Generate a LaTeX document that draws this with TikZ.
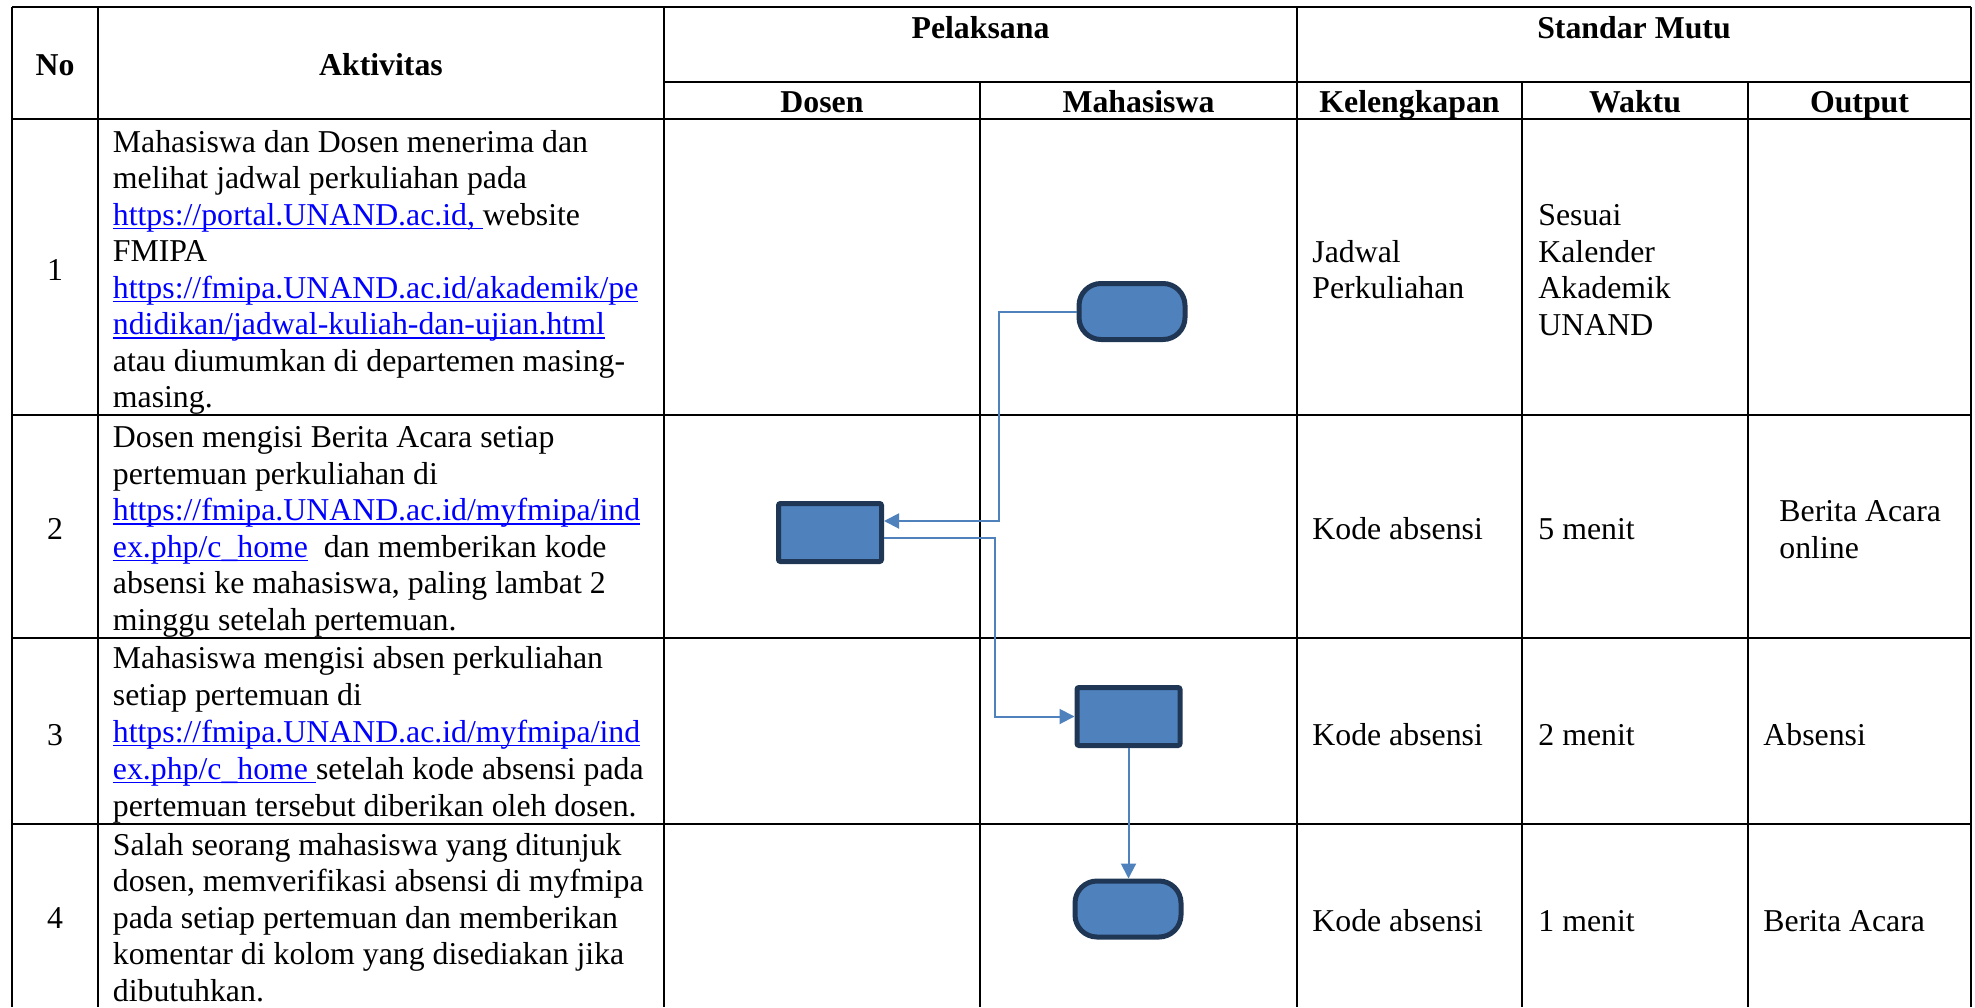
\documentclass[tikz,border=0pt]{standalone}
\usepackage{fontspec}
\setmainfont{Liberation Serif}
\usetikzlibrary{arrows.meta,calc}
\definecolor{boxfill}{HTML}{4F81BD}
\definecolor{boxline}{HTML}{1F3654}
\definecolor{connblue}{HTML}{4F81BD}
\definecolor{linkblue}{HTML}{0000FF}
\newcommand\lnk[1]{{\color{linkblue}\setbox0\hbox{#1}\rlap{\rule[-2.1pt]{\wd0}{0.8pt}}\box0}}
\newcommand\txl[3]{\node[txt] (#1) at (#2) {#3};}
\tikzset{
  txt/.style={anchor=base west, inner sep=0pt, font=\fontsize{15.9}{18.3}\selectfont},
  hdr/.style={anchor=base, inner sep=0pt, font=\fontsize{15.9}{18.3}\selectfont\bfseries},
  num/.style={anchor=base, inner sep=0pt, font=\fontsize{15.9}{18.3}\selectfont},
  tbl/.style={line width=1pt, black},
  term/.style={draw=boxline, fill=boxfill, line width=2.5pt, minimum width=53pt, minimum height=28pt, rounded corners=11pt, inner sep=0pt},
  proc/.style={draw=boxline, fill=boxfill, line width=2.5pt, minimum width=51.5pt, minimum height=29pt, rounded corners=1pt, inner sep=0pt},
  conn/.style={draw=connblue, line width=1pt, -{Triangle[length=7.5pt,width=7.5pt]}}
}
\begin{document}
\begin{tikzpicture}[x=0.5pt,y=-0.5pt]
\useasboundingbox (0,0) rectangle (1975,1007);
% grid
\draw[tbl] (12,7) -- (1971,7);
\draw[tbl] (664,82) -- (1971,82);
\foreach \yy in {119,415,638,824} {\draw[tbl] (12,\yy) -- (1971,\yy);}
\foreach \xx in {12,98,664,1297,1971} {\draw[tbl] (\xx,7) -- (\xx,1007);}
\foreach \xx in {980,1522,1748} {\draw[tbl] (\xx,82) -- (\xx,1007);}
% headers
\node[hdr] (hNo) at (55,75) {No};
\node[hdr] (hAkt) at (381,75) {Aktivitas};
\node[hdr] (hPel) at (980.5,38) {Pelaksana};
\node[hdr] (hStd) at (1634,38) {Standar Mutu};
\node[hdr] (hDos) at (822,112) {Dosen};
\node[hdr] (hMhs) at (1138.5,112) {Mahasiswa};
\node[hdr] (hKel) at (1409.5,112) {Kelengkapan};
\node[hdr] (hWak) at (1635,112) {Waktu};
\node[hdr] (hOut) at (1859.5,112) {Output};
% numbers
\node[num] (n1) at (55,280) {1};
\node[num] (n2) at (55,539.5) {2};
\node[num] (n3) at (55,745.7) {3};
\node[num] (n4) at (55,928) {4};
% row 1
\txl{a1}{112.5,152}{Mahasiswa dan Dosen menerima dan}
\txl{a2}{112.5,188.5}{melihat jadwal perkuliahan pada}
\txl{a3}{112.5,225}{\lnk{https://portal.UNAND.ac.id,\ }website}
\txl{a4}{112.5,261.5}{FMIPA}
\txl{a5}{112.5,298}{\lnk{https://fmipa.UNAND.ac.id/akademik/pe}}
\txl{a6}{112.5,334.5}{\lnk{ndidikan/jadwal-kuliah-dan-ujian.html}}
\txl{a7}{112.5,371}{atau diumumkan di departemen masing-}
\txl{a8}{112.5,407.5}{masing.}
% row 2
\txl{b1}{112.5,447.5}{Dosen mengisi Berita Acara setiap}
\txl{b2}{112.5,484}{pertemuan perkuliahan di}
\txl{b3}{112.5,520.5}{\lnk{https://fmipa.UNAND.ac.id/myfmipa/ind}}
\txl{b4}{112.5,557}{\lnk{ex.php/c\_home}\ \ dan memberikan kode}
\txl{b5}{112.5,593.5}{absensi ke mahasiswa, paling lambat 2}
\txl{b6}{112.5,630}{minggu setelah pertemuan.}
% row 3
\txl{c1}{112.5,668.5}{Mahasiswa mengisi absen perkuliahan}
\txl{c2}{112.5,705.3}{setiap pertemuan di}
\txl{c3}{112.5,742}{\lnk{https://fmipa.UNAND.ac.id/myfmipa/ind}}
\txl{c4}{112.5,779}{\lnk{ex.php/c\_home\ }setelah kode absensi pada}
\txl{c5}{112.5,816}{pertemuan tersebut diberikan oleh dosen.}
% row 4
\txl{d1}{112.5,855}{Salah seorang mahasiswa yang ditunjuk}
\txl{d2}{112.5,891.6}{dosen, memverifikasi absensi di myfmipa}
\txl{d3}{112.5,928.2}{pada setiap pertemuan dan memberikan}
\txl{d4}{112.5,964.8}{komentar di kolom yang disediakan jika}
\txl{d5}{112.5,1001.4}{dibutuhkan.}
% standar mutu
\txl{k1a}{1312,262}{Jadwal}
\txl{k1b}{1312,298}{Perkuliahan}
\txl{w1a}{1538,225}{Sesuai}
\txl{w1b}{1538,262}{Kalender}
\txl{w1c}{1538,298}{Akademik}
\txl{w1d}{1538,335}{UNAND}
\txl{k2}{1312,539.5}{Kode absensi}
\txl{w2}{1538,539.5}{5 menit}
\txl{o2a}{1779,521}{Berita Acara}
\txl{o2b}{1779,558}{online}
\txl{k3}{1312,745.7}{Kode absensi}
\txl{w3}{1538,745.7}{2 menit}
\txl{o3}{1763,745.7}{Absensi}
\txl{k4}{1312,931}{Kode absensi}
\txl{w4}{1538,931}{1 menit}
\txl{o4}{1763,931}{Berita Acara}
% flow shapes
\node[term] (T1) at (1132,311.5) {};
\node[proc] (R1) at (830,532.5) {};
\node[proc] (R2) at (1128.5,716.5) {};
\node[term] (T2) at (1128,909) {};
% connectors
\draw[conn] (T1.west) -- ++(-78,0) |- ($(R1.east)+(0,-11.5)$);
\draw[conn] ($(R1.east)+(0,5.5)$) -- ++(111,0) |- (R2.west);
\draw[conn] (R2.south) -- (R2.south |- T2.north);
\end{tikzpicture}
\end{document}
